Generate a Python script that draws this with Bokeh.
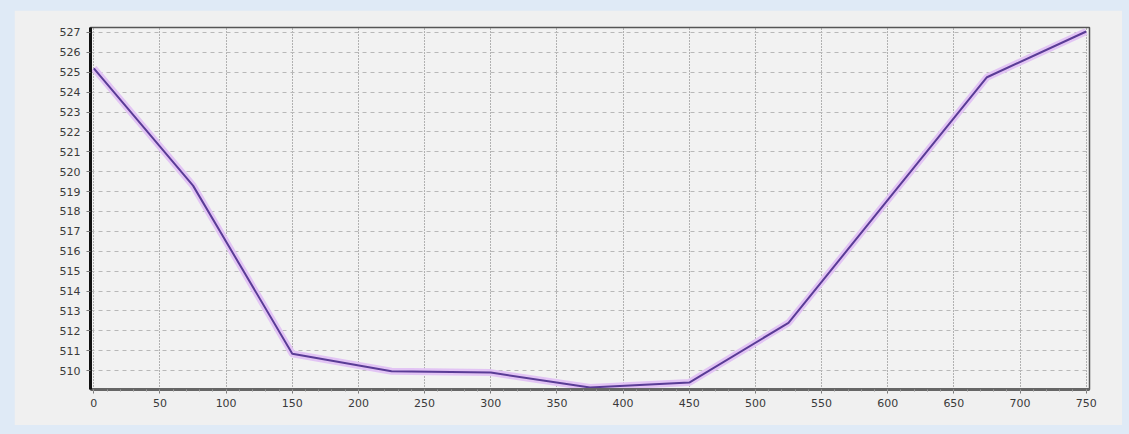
from bokeh.plotting import figure
from bokeh.models import SingleIntervalTicker, Range1d
from bokeh.embed import file_html
from bokeh.resources import INLINE

# Data (distance vs elevation)
distance = [0, 75, 150, 225, 300, 375, 450, 525, 675, 750]
elevation = [525.2, 519.3, 510.85, 509.97, 509.9, 509.15, 509.4, 512.4, 524.75, 527.05]

p = figure(width=1108, height=415, output_backend="svg", toolbar_location=None,
           x_range=Range1d(-2.5, 752.5), y_range=Range1d(509.05, 527.25),
           min_border_left=76, min_border_right=33, min_border_top=17, min_border_bottom=36)

p.background_fill_color = "#f2f2f2"
p.border_fill_color = "#f0f0f0"
p.outline_line_color = "#555555"
p.outline_line_width = 1.5

# axes
p.xaxis.ticker = SingleIntervalTicker(interval=50, num_minor_ticks=5)
p.yaxis.ticker = SingleIntervalTicker(interval=1, num_minor_ticks=0)
for ax in (p.xaxis[0], p.yaxis[0]):
    ax.major_label_text_font = "DejaVu Sans"
    ax.major_label_text_font_size = "11px"
    ax.major_label_text_color = "#3a3a3a"
    ax.major_tick_in = 0
    ax.major_tick_out = 4
    ax.minor_tick_in = 0
    ax.minor_tick_out = 2
    ax.major_tick_line_color = "#777777"
    ax.minor_tick_line_color = "#999999"
p.yaxis.axis_line_color = "#111111"
p.yaxis.axis_line_width = 3
p.yaxis.major_label_standoff = 6
p.xaxis.axis_line_color = "#666666"
p.xaxis.axis_line_width = 3
p.xaxis.major_label_standoff = 5

# grids
p.xgrid.grid_line_color = "#707070"
p.xgrid.grid_line_dash = "1 2"
p.xgrid.grid_line_width = 1
p.ygrid.grid_line_color = "#b8b8b8"
p.ygrid.grid_line_dash = "4 4"
p.ygrid.grid_line_width = 1

# line with halo
p.line(distance, elevation, line_color="#e2c4f4", line_width=7, line_join="round")
p.line(distance, elevation, line_color="#5a3c96", line_width=2, line_join="round")

html = file_html(p, INLINE)
html = html.replace("</head>",
                    "<style>html, body { background-color: #dfeaf6; } "
                    "body { margin: 10px 0 0 14px; }</style></head>", 1)
open("out.html", "w").write(html)
